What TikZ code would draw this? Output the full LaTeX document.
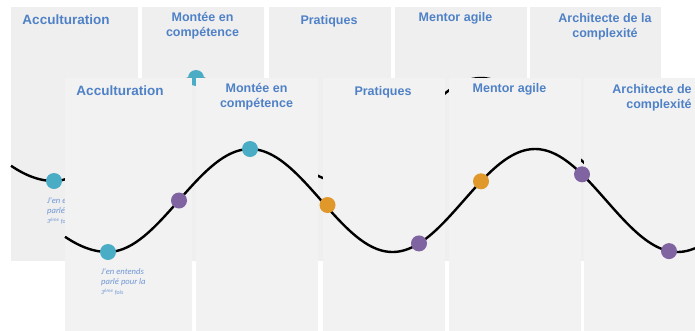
\documentclass[tikz,border=0pt]{standalone}
\usepackage{fontspec}
\setmainfont{Liberation Sans}
\newfontfamily\notefont{Carlito}
\definecolor{backpanel}{HTML}{EFEFEF}
\definecolor{frontpanel}{HTML}{F2F2F2}
\definecolor{titleblue}{HTML}{4F81C7}
\definecolor{noteblue}{HTML}{6F96D4}
\definecolor{dotcyan}{HTML}{4BACC6}
\definecolor{dotpurple}{HTML}{8064A2}
\definecolor{dotorange}{HTML}{E1982A}
\tikzset{
  panelbox/.style={fill=#1, draw=none},
  titletext/.style={text=titleblue, font=\bfseries\fontsize{12.5}{15}\selectfont, align=center, inner sep=0pt},
  notetext/.style={text=noteblue, font=\notefont\itshape\fontsize{8.6}{10}\selectfont, align=left, inner sep=0pt},
  wave/.style={line width=2.4pt, black},
  dotmark/.style={circle, fill=#1, draw=none, minimum size=16pt, inner sep=0pt},
}
\newcommand\slidelayer[1]{%
  \path[panelbox=#1] (11,7) rectangle (137.5,261);
  \path[panelbox=#1] (142,7) rectangle (263.5,261);
  \path[panelbox=#1] (269,7) rectangle (391,261);
  \path[panelbox=#1] (395,7) rectangle (526.5,261);
  \path[panelbox=#1] (530,7) rectangle (661,261);
  \node[titletext, font=\bfseries\fontsize{13.5}{15}\selectfont] (t1) at (66,20) {Acculturation};
  \node[titletext] (t2) at (202.5,25.5) {Montée en\\compétence};
  \node[titletext] (t3) at (329,21) {Pratiques};
  \node[titletext] (t4) at (455.5,18) {Mentor agile};
  \node[titletext] (t5) at (605,27) {Architecte de la\\complexité};
  \draw[wave] plot[domain=11:54, samples=30, smooth] (\x,{129.5+51.5*cos((54-\x)*1.05263)});
  \draw[wave] plot[domain=54:641, samples=200, smooth] (\x,{129.5-51.5*cos((\x-196)*1.263158)});
  \node[dotmark=dotcyan] (d1) at (54,181) {};
  \node[dotmark=dotpurple] (d2) at (125,129.5) {};
  \node[dotmark=dotcyan] (d3) at (196,78) {};
  \node[dotmark=dotorange] (d4) at (273.5,134) {};
  \node[dotmark=dotpurple] (d5) at (365,172.4) {};
  \node[dotmark=dotorange] (d6) at (427,110.3) {};
  \node[dotmark=dotpurple] (d7) at (528,103.3) {};
  \node[dotmark=dotpurple] (d8) at (615,180.1) {};
  \node[notetext, anchor=north west] (n1) at (47,197.5) {J'en entends\\parlé pour la\\{\fontsize{6}{7}\selectfont 3\textsuperscript{ème} fois}};
}
\begin{document}
\begin{tikzpicture}[x=1pt, y=-1pt]
  \useasboundingbox (0,0) rectangle (695,330);
  \clip (0,0) rectangle (695,330);
  \fill[white] (0,0) rectangle (695,330);
  \begin{scope}[name prefix=back-]
    \slidelayer{backpanel}
  \end{scope}
  \begin{scope}[shift={(54,71)}, name prefix=front-]
    \slidelayer{frontpanel}
  \end{scope}
\end{tikzpicture}
\end{document}
